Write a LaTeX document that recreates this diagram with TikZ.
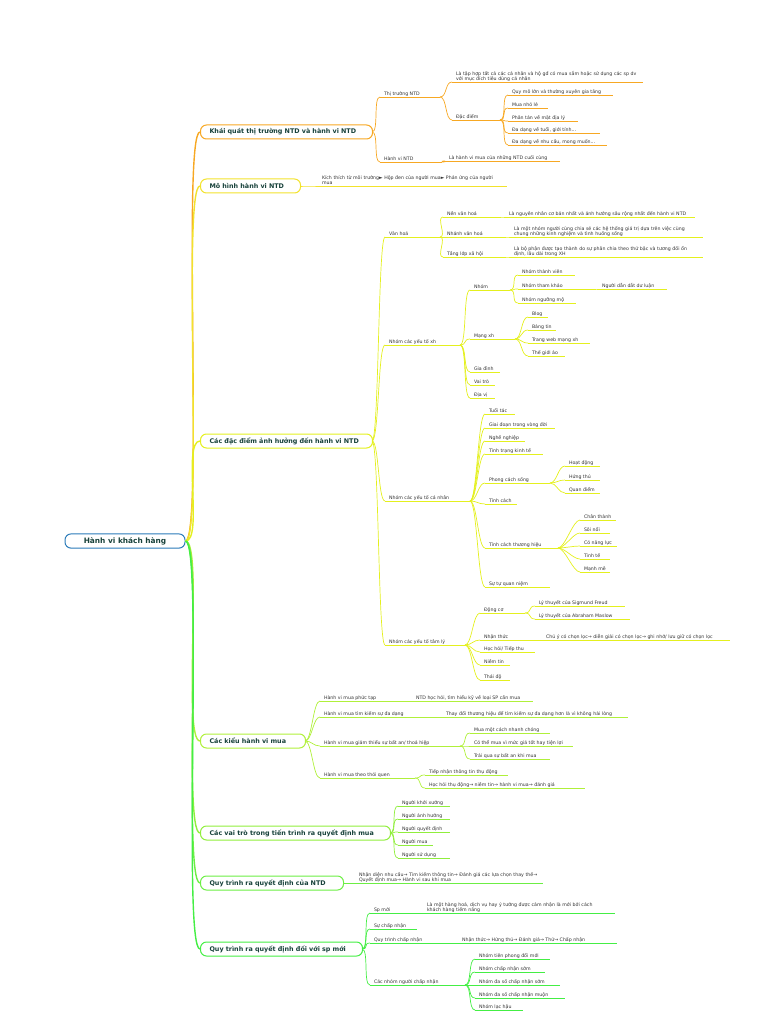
\documentclass[tikz,border=0pt]{standalone}
\usepackage{fontspec}
\setmainfont{DejaVu Sans}
\begin{document}
\definecolor{cO}{HTML}{F7A823}
\definecolor{cY}{HTML}{F2E22C}
\definecolor{cY2}{HTML}{E4F01E}
\definecolor{cG1}{HTML}{B0F03A}
\definecolor{cG2}{HTML}{90EE3C}
\definecolor{cG3}{HTML}{6CEE44}
\definecolor{cG4}{HTML}{44EE44}
\definecolor{cB}{HTML}{2A7AB8}
\definecolor{tx}{HTML}{333333}
\definecolor{mt}{HTML}{17413A}
\newcommand\itm[6]{%
 \coordinate (#1L) at (#2,#4); \coordinate (#1R) at (#3,#4);
 \draw[#5,line width=.7pt] (#1L)--(#1R);
 \node[lbl] (#1) at (#2+3,#4) {#6};}
\newcommand\itw[7]{%
 \coordinate (#1L) at (#2,#4); \coordinate (#1R) at (#3,#4);
 \draw[#5,line width=.7pt] (#1L)--(#1R);
 \node[lbl,text width=#6pt,align=left] (#1) at (#2+3,#4) {#7};}
\newcommand\cn[3]{\draw[#1,line width=.7pt] (#2) .. controls +(7,0) and +(-7,0) .. (#3);}
\newcommand\mb[5]{% name, x2, y, color, text
 \node[mainbox,draw=#4,minimum width=#2pt-200pt,text width=#2pt-218pt] (#1) at (200,#3) {#5};
 \coordinate (#1R) at (#2,#3);
 \draw[#4,line width=1.4pt] (root.east) .. controls +(18,0) and +(-18,0) .. (#1.west);}
\begin{tikzpicture}[x=1pt,y=-1pt,
 lbl/.style={anchor=south west,inner sep=0.8pt,text=tx,font=\fontsize{4.7}{5}\selectfont},
 mainbox/.style={anchor=west,rounded corners=6pt,line width=1pt,minimum height=14pt,inner sep=0pt,align=left,text=mt,font=\fontsize{6.4}{7}\selectfont\bfseries}]
\useasboundingbox (0,0) rectangle (768,1024);
\node[draw=cB,line width=1pt,rounded corners=6pt,minimum width=120pt,minimum height=14pt,text=mt,font=\fontsize{7.4}{8}\selectfont\bfseries] (root) at (125,541) {Hành vi khách hàng};
% 1
\mb{m1}{372}{132}{cO}{Khái quát thị trường NTD và hành vi NTD}
\itm{a1}{380}{440}{97}{cO}{Thị trường NTD}
\itw{a11}{452}{643}{82}{cO}{185}{Là tập hợp tất cả các cá nhân và hộ gđ có mua sắm hoặc sử dụng các sp dv với mục đích tiêu dùng cá nhân}
\itm{a12}{452}{500}{120}{cO}{Đặc điểm}
\itm{b1}{508}{613}{95}{cO}{Quy mô lớn và thường xuyên gia tăng}
\itm{b2}{508}{548}{108}{cO}{Mua nhỏ lẻ}
\itm{b3}{508}{578}{121}{cO}{Phân tán về mặt địa lý}
\itm{b4}{508}{600}{133}{cO}{Đa dạng về tuổi, giới tính...}
\itm{b5}{508}{607}{145}{cO}{Đa dạng về nhu cầu, mong muốn...}
\itm{a2}{380}{442}{162}{cO}{Hành vi NTD}
\itm{a21}{445}{560}{161}{cO}{Là hành vi mua của những NTD cuối cùng}
\cn{cO}{m1R}{a1L}\cn{cO}{m1R}{a2L}\cn{cO}{a1R}{a11L}\cn{cO}{a1R}{a12L}\cn{cO}{a2R}{a21L}
\foreach \i in {1,...,5}{\cn{cO}{a12R}{b\i L}}
% 2
\mb{m2}{300}{186}{cY}{Mô hình hành vi NTD}
\itw{c1}{318}{507}{186}{cY}{180}{Kích thích từ môi trường► Hộp đen của người mua► Phản ứng của người mua}
\cn{cY}{m2R}{c1L}
% 3
\mb{m3}{372}{441}{cY2}{Các đặc điểm ảnh hưởng đến hành vi NTD}
\itm{d1}{385}{440}{237}{cY2}{Văn hoá}
\itm{d11}{443}{500}{217}{cY2}{Nền văn hoá}
\itw{d111}{505}{695}{217}{cY2}{185}{Là nguyên nhân cơ bản nhất và ảnh hưởng sâu rộng nhất đến hành vi NTD}
\itm{d12}{443}{505}{237}{cY2}{Nhánh văn hoá}
\itw{d121}{510}{703}{237}{cY2}{185}{Là một nhóm người cùng chia sẻ các hệ thống giá trị dựa trên việc cùng chung những kinh nghiệm và tình huống sống}
\itm{d13}{443}{505}{257}{cY2}{Tầng lớp xã hội}
\itw{d131}{510}{703}{257}{cY2}{185}{Là bộ phận được tạo thành do sự phân chia theo thứ bậc và tương đối ổn định, lâu dài trong XH}
\cn{cY2}{m3R}{d1L}\cn{cY2}{d1R}{d11L}\cn{cY2}{d1R}{d12L}\cn{cY2}{d1R}{d13L}
\cn{cY2}{d11R}{d111L}\cn{cY2}{d12R}{d121L}\cn{cY2}{d13R}{d131L}
\itm{e1}{385}{460}{345}{cY2}{Nhóm các yếu tố xh}
\itm{e11}{470}{510}{290}{cY2}{Nhóm}
\itm{e111}{518}{575}{275}{cY2}{Nhóm thành viên}
\itm{e112}{518}{595}{289}{cY2}{Nhóm tham khảo}
\itm{e1121}{598}{667}{289}{cY2}{Người dẫn dắt dư luận}
\itm{e113}{518}{576}{303}{cY2}{Nhóm ngưỡng mộ}
\itm{e12}{470}{515}{339}{cY2}{Mạng xh}
\itm{e121}{528}{548}{317}{cY2}{Blog}
\itm{e122}{528}{556}{330}{cY2}{Bảng tin}
\itm{e123}{528}{590}{343}{cY2}{Trang web mạng xh}
\itm{e124}{528}{565}{356}{cY2}{Thế giới ảo}
\itm{e13}{470}{500}{372}{cY2}{Gia đình}
\itm{e14}{470}{495}{385}{cY2}{Vai trò}
\itm{e15}{470}{495}{398}{cY2}{Địa vị}
\cn{cY2}{m3R}{e1L}
\foreach \i in {1,...,5}{\cn{cY2}{e1R}{e1\i L}}
\foreach \i in {1,2,3}{\cn{cY2}{e11R}{e11\i L}}
\foreach \i in {1,...,4}{\cn{cY2}{e12R}{e12\i L}}
\cn{cY2}{e112R}{e1121L}
\itm{f1}{385}{470}{501}{cY2}{Nhóm các yếu tố cá nhân}
\itm{f11}{485}{515}{414}{cY2}{Tuổi tác}
\itm{f12}{485}{555}{428}{cY2}{Giai đoạn trong vòng đời}
\itm{f13}{485}{525}{441}{cY2}{Nghề nghiệp}
\itm{f14}{485}{543}{454}{cY2}{Tình trạng kinh tế}
\itm{f15}{485}{550}{483}{cY2}{Phong cách sống}
\itm{f151}{565}{600}{466}{cY2}{Hoạt động}
\itm{f152}{565}{600}{480}{cY2}{Hứng thú}
\itm{f153}{565}{600}{493}{cY2}{Quan điểm}
\itm{f16}{485}{517}{504}{cY2}{Tính cách}
\itm{f17}{485}{558}{548}{cY2}{Tính cách thương hiệu}
\itm{f171}{580}{616}{520}{cY2}{Chân thành}
\itm{f172}{580}{610}{533}{cY2}{Sôi nổi}
\itm{f173}{580}{617}{546}{cY2}{Có năng lực}
\itm{f174}{580}{610}{559}{cY2}{Tinh tế}
\itm{f175}{580}{610}{572}{cY2}{Mạnh mẽ}
\itm{f18}{485}{550}{587}{cY2}{Sự tự quan niệm}
\cn{cY2}{m3R}{f1L}
\foreach \i in {1,...,8}{\cn{cY2}{f1R}{f1\i L}}
\foreach \i in {1,2,3}{\cn{cY2}{f15R}{f15\i L}}
\foreach \i in {1,...,5}{\cn{cY2}{f17R}{f17\i L}}
\itm{g1}{385}{465}{645}{cY2}{Nhóm các yếu tố tâm lý}
\itm{g11}{480}{525}{613}{cY2}{Động cơ}
\itm{g111}{535}{625}{606}{cY2}{Lý thuyết của Sigmund Freud}
\itm{g112}{535}{630}{619}{cY2}{Lý thuyết của Abraham Maslow}
\itm{g12}{480}{540}{640}{cY2}{Nhận thức}
\itw{g121}{542}{730}{640}{cY2}{185}{Chú ý có chọn lọc→ diễn giải có chọn lọc→ ghi nhớ/ lưu giữ có chọn lọc}
\itm{g13}{480}{535}{652}{cY2}{Học hỏi/ Tiếp thu}
\itm{g14}{480}{510}{665}{cY2}{Niềm tin}
\itm{g15}{480}{510}{680}{cY2}{Thái độ}
\cn{cY2}{m3R}{g1L}
\foreach \i in {1,...,5}{\cn{cY2}{g1R}{g1\i L}}
\cn{cY2}{g11R}{g111L}\cn{cY2}{g11R}{g112L}\cn{cY2}{g12R}{g121L}
% 4
\mb{m4}{305}{741}{cG1}{Các kiểu hành vi mua}
\itm{h1}{320}{410}{701}{cG1}{Hành vi mua phức tạp}
\itm{h11}{412}{533}{701}{cG1}{NTD học hỏi, tìm hiểu kỹ về loại SP cần mua}
\itm{h2}{320}{440}{717}{cG1}{Hành vi mua tìm kiếm sự đa dạng}
\itw{h21}{442}{628}{717}{cG1}{180}{Thay đổi thương hiệu để tìm kiếm sự đa dạng hơn là vì không hài lòng}
\itm{h3}{320}{460}{746}{cG1}{Hành vi mua giảm thiểu sự bất an/ thoả hiệp}
\itm{h31}{470}{550}{733}{cG1}{Mua một cách nhanh chóng}
\itm{h32}{470}{573}{746}{cG1}{Có thể mua vì mức giá tốt hay tiện lợi}
\itm{h33}{470}{550}{759}{cG1}{Trải qua sự bất an khi mua}
\itm{h4}{320}{415}{778}{cG1}{Hành vi mua theo thói quen}
\itm{h41}{425}{508}{775}{cG1}{Tiếp nhận thông tin thụ động}
\itm{h42}{425}{585}{788}{cG1}{Học hỏi thụ động→ niềm tin→ hành vi mua→ đánh giá}
\foreach \i in {1,...,4}{\cn{cG1}{m4R}{h\i L}}
\cn{cG1}{h1R}{h11L}\cn{cG1}{h2R}{h21L}
\foreach \i in {1,2,3}{\cn{cG1}{h3R}{h3\i L}}
\cn{cG1}{h4R}{h41L}\cn{cG1}{h4R}{h42L}
% 5
\mb{m5}{390}{833}{cG2}{Các vai trò trong tiến trình ra quyết định mua}
\itm{k1}{398}{450}{806}{cG2}{Người khởi xướng}
\itm{k2}{398}{450}{819}{cG2}{Người ảnh hưởng}
\itm{k3}{398}{450}{832}{cG2}{Người quyết định}
\itm{k4}{398}{433}{845}{cG2}{Người mua}
\itm{k5}{398}{450}{858}{cG2}{Người sử dụng}
\foreach \i in {1,...,5}{\cn{cG2}{m5R}{k\i L}}
% 6
\mb{m6}{343}{883}{cG3}{Quy trình ra quyết định của NTD}
\itw{l1}{355}{543}{883}{cG3}{180}{Nhận diện nhu cầu→ Tìm kiếm thông tin→ Đánh giá các lựa chọn thay thế→ Quyết định mua→ Hành vi sau khi mua}
\cn{cG3}{m6R}{l1L}
% 7
\mb{m7}{362}{949}{cG4}{Quy trình ra quyết định đối với sp mới}
\itm{n1}{370}{420}{913}{cG4}{Sp mới}
\itw{n11}{423}{615}{913}{cG4}{180}{Là một hàng hoá, dịch vụ hay ý tưởng được cảm nhận là mới bởi cách khách hàng tiềm năng}
\itm{n2}{370}{417}{929}{cG4}{Sự chấp nhận}
\itm{n3}{370}{455}{943}{cG4}{Quy trình chấp nhận}
\itm{n31}{458}{617}{943}{cG4}{Nhận thức→ Hứng thú→ Đánh giá→ Thử→ Chấp nhận}
\itm{n4}{370}{465}{985}{cG4}{Các nhóm người chấp nhận}
\itm{n41}{475}{550}{959}{cG4}{Nhóm tiên phong đổi mới}
\itm{n42}{475}{545}{972}{cG4}{Nhóm chấp nhận sớm}
\itm{n43}{475}{560}{985}{cG4}{Nhóm đa số chấp nhận sớm}
\itm{n44}{475}{565}{998}{cG4}{Nhóm đa số chấp nhận muộn}
\itm{n45}{475}{523}{1010}{cG4}{Nhóm lạc hậu}
\foreach \i in {1,...,4}{\cn{cG4}{m7R}{n\i L}}
\cn{cG4}{n1R}{n11L}\cn{cG4}{n3R}{n31L}
\foreach \i in {1,...,5}{\cn{cG4}{n4R}{n4\i L}}
\end{tikzpicture}
\end{document}
